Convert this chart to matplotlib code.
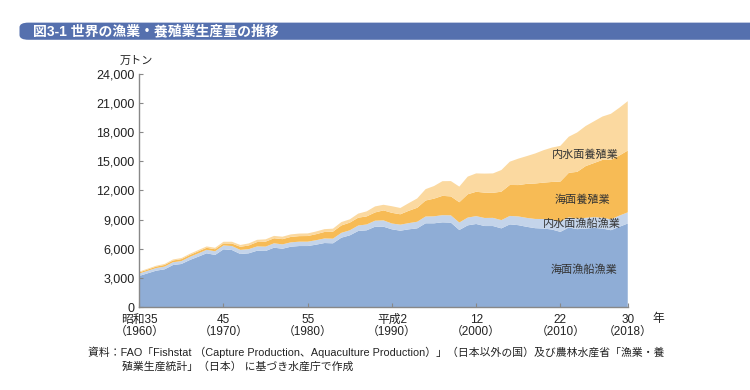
import matplotlib
matplotlib.use('Agg')
from matplotlib import pyplot as plt
from matplotlib.patches import FancyBboxPatch

plt.rcParams['font.family'] = ['Liberation Sans', 'Noto Sans CJK JP', 'DejaVu Sans']

years = list(range(1960, 2019))

# 万トン
marine_capture = [3200, 3470, 3740, 3880, 4320, 4430, 4840, 5180, 5530, 5360,
                  5940, 5870, 5460, 5530, 5800, 5770, 6110, 6000, 6210, 6280,
                  6280, 6420, 6590, 6560, 7140, 7380, 7830, 7900, 8270, 8270,
                  8000, 7860, 8000, 8100, 8620, 8620, 8720, 8690, 7930, 8410,
                  8550, 8340, 8340, 8100, 8510, 8430, 8260, 8120, 8080, 7980,
                  7740, 8190, 8020, 8080, 8150, 8080, 7910, 8260, 8600]
inland_capture = [250, 260, 270, 280, 290, 300, 320, 340, 360, 380,
                  400, 410, 420, 430, 440, 450, 450, 450, 450, 450,
                  450, 460, 470, 480, 500, 520, 560, 600, 620, 650,
                  600, 620, 640, 680, 700, 720, 740, 750, 770, 800,
                  810, 830, 840, 850, 870, 900, 920, 950, 980, 1010,
                  1060, 1050, 1080, 1100, 1110, 1110, 1120, 1150, 1150]
mariculture = [120, 130, 150, 170, 180, 200, 200, 210, 210, 210,
               210, 260, 320, 380, 450, 510, 520, 540, 560, 570,
               580, 620, 670, 720, 760, 790, 810, 830, 850, 1030,
               1100, 1070, 1270, 1440, 1650, 1820, 1990, 1950, 2090, 2400,
               2510, 2610, 2580, 2930, 3190, 3230, 3500, 3650, 3750, 3890,
               4120, 4580, 4820, 5330, 5570, 5960, 6130, 6190, 6360]
inland_aquaculture = [80, 85, 90, 100, 105, 110, 120, 130, 140, 150,
                      170, 180, 190, 210, 230, 240, 245, 250, 260, 265,
                      270, 280, 290, 310, 350, 340, 420, 520, 620, 580,
                      680, 650, 790, 960, 1170, 1300, 1510, 1580, 1610, 1820,
                      1890, 1960, 2000, 2230, 2400, 2720, 2860, 3090, 3340, 3540,
                      3680, 3720, 4060, 4130, 4300, 4470, 4740, 4920, 5090]

series_names = ['海面漁船漁業', '内水面漁船漁業', '海面養殖業', '内水面養殖業']
colors = ['#8fadd6', '#c4d4ea', '#f7bb55', '#fbd9a0']

xticks = [1960, 1970, 1980, 1990, 2000, 2010, 2018]
xlabels = ['昭和35\n（1960）', '45\n（1970）', '55\n（1980）', '平成2\n（1990）',
           '12\n（2000）', '22\n（2010）', '30\n（2018）']
yticks = list(range(0, 24001, 3000))

fig = plt.figure(figsize=(7.5, 3.9), dpi=100)

# title bar
bar = FancyBboxPatch((0.026, 0.898), 1.0, 0.044, boxstyle='round,pad=0,rounding_size=0.012',
                     transform=fig.transFigure, facecolor='#5570ae', edgecolor='none')
fig.patches.append(bar)
fig.text(0.044, 0.920, '図3-1 世界の漁業・養殖業生産量の推移', color='white',
         fontsize=10, fontweight='bold', va='center', ha='left')

ax = fig.add_axes([0.1857, 0.2128, 0.6513, 0.5975])
ax.stackplot(years, marine_capture, inland_capture, mariculture, inland_aquaculture,
             colors=colors, linewidth=0)

ax.set_xlim(1960, 2018)
ax.set_ylim(0, 24000)
ax.set_yticks(yticks)
ax.set_yticklabels(['{:,}'.format(v) for v in yticks], fontsize=9, color='#222222')
ax.set_xticks(xticks)
ax.set_xticklabels(xlabels, fontsize=8.5, color='#222222', linespacing=1.0)
for s in ['top', 'right']:
    ax.spines[s].set_visible(False)
for s in ['left', 'bottom']:
    ax.spines[s].set_color('#888888')
    ax.spines[s].set_linewidth(1.0)
ax.tick_params(direction='in', length=3, color='#888888')
ax.tick_params(axis='x', pad=5)

ax.text(-0.005, 1.035, '万トン', transform=ax.transAxes, fontsize=8, ha='center',
        va='bottom', color='#222222')
fig.text(0.870, 0.183, '年', fontsize=8.5, ha='left', va='center', color='#222222')

label_pos = [(2012.8, 3800), (2012.6, 8550), (2012.6, 11100), (2013.0, 15650)]
for name, (lx, ly) in zip(series_names, label_pos):
    ax.text(lx, ly, name, fontsize=8, ha='center', va='center', color='#333333')

fig.text(0.117, 0.097, '資料：FAO「Fishstat （Capture Production、Aquaculture Production）」（日本以外の国）及び農林水産省「漁業・養',
         fontsize=7.8, ha='left', va='center', color='#222222')
fig.text(0.163, 0.060, '殖業生産統計」（日本） に基づき水産庁で作成',
         fontsize=7.8, ha='left', va='center', color='#222222')

fig.savefig('out.png', dpi=100)
